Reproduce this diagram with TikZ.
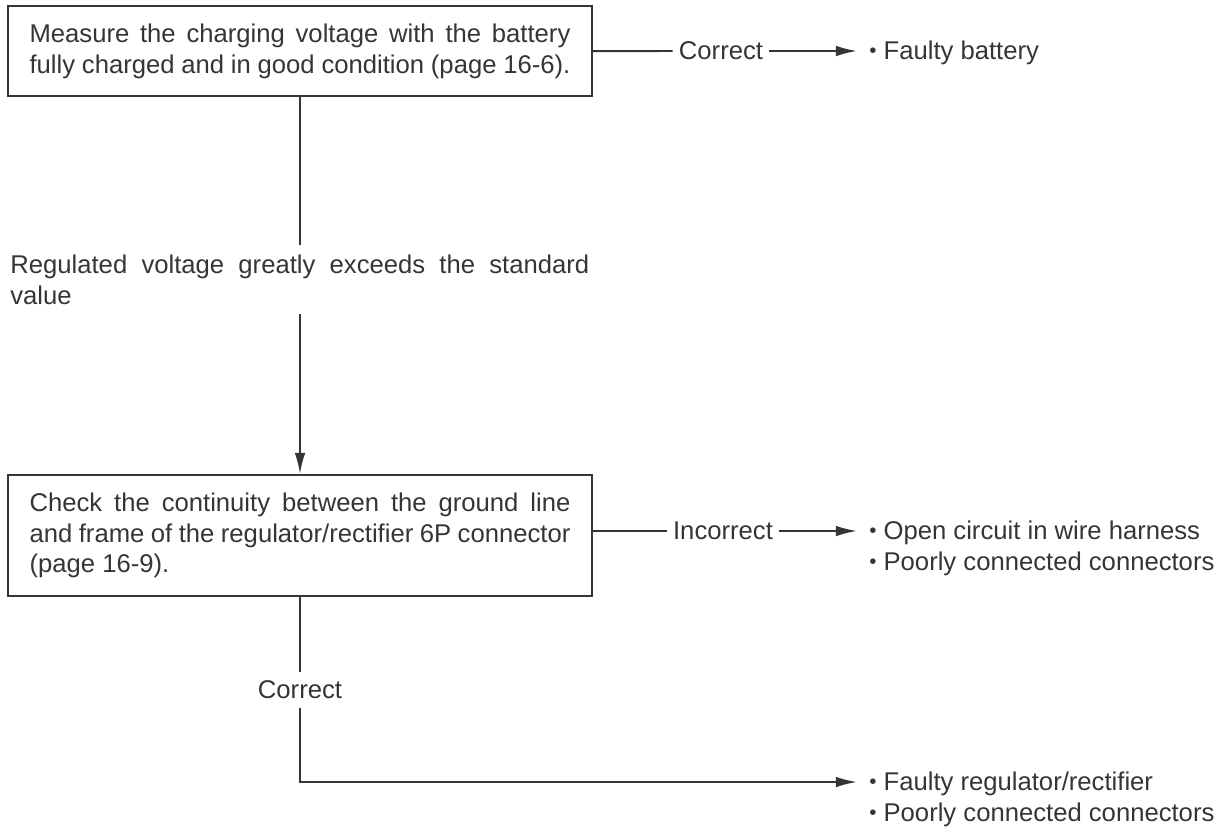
\documentclass[tikz,border=0pt]{standalone}
\usepackage{fontspec}
\setmainfont{Liberation Sans}
\usetikzlibrary{arrows.meta}
\definecolor{ink}{HTML}{353535}
\tolerance=10000
\hyphenpenalty=10000
\newcommand{\dotmark}{\raisebox{0.08em}{\scalebox{0.8}{\textbullet}}}

\begin{document}
\begin{tikzpicture}[x=0.02cm,y=-0.02cm,
  every node/.style={text=ink, font=\fontsize{14.6}{17.4}\selectfont},
  checkbox/.style={draw=ink, line width=1.1pt, anchor=north, text width=10.82cm, align=justify, inner xsep=0.43cm, inner ysep=0.36cm},
  tag/.style={inner xsep=3.4pt, inner ysep=4.8pt},
  result/.style={anchor=north west, align=left, inner xsep=6.8pt, inner ysep=0pt},
  wire/.style={draw=ink, line width=1.1pt},
  arrow/.style={wire, -{Latex[length=12pt,width=6pt]}}]

\useasboundingbox (0,0) rectangle (1226,828);

\node[checkbox] (measure) at (300,5) {Measure the charging voltage with the battery\linebreak fully charged and in good condition (page 16-6).};
\node[anchor=north west, text width=11.58cm, align=justify, inner xsep=0pt, inner ysep=5.5pt] (high) at (10,245) {Regulated voltage greatly exceeds the standard\linebreak value};
\node[checkbox] (check) at (300,474) {Check the continuity between the ground line\linebreak and frame of the regulator/rectifier 6P connector\linebreak (page 16-9).};

\node[tag] (correct1) at (721,51) {Correct};
\node[result] (battery) at (857,41) {\dotmark\ Faulty battery};
\node[tag] (incorrect) at (723,531) {Incorrect};
\node[result] (harness) at (857,521) {\dotmark\ Open circuit in wire harness\\ \dotmark\ Poorly connected connectors};
\node[tag] (correct2) at (300,690) {Correct};
\node[result] (faulty) at (857,772) {\dotmark\ Faulty regulator/rectifier\\ \dotmark\ Poorly connected connectors};
\coordinate (bend) at (300,782);

\draw[wire] (measure.east) -- (correct1.west);
\draw[arrow] (correct1.east) -- (correct1.east -| battery.west);
\draw[wire] (measure.south) -- (measure.south |- high.north);
\draw[arrow] (check.north |- high.south) -- (check.north);
\draw[wire] (check.east |- incorrect.west) -- (incorrect.west);
\draw[arrow] (incorrect.east) -- (incorrect.east -| harness.west);
\draw[wire] (check.south) -- (correct2.north);
\draw[arrow] (correct2.south) -- (bend) -- (bend -| faulty.west);
\end{tikzpicture}
\end{document}
